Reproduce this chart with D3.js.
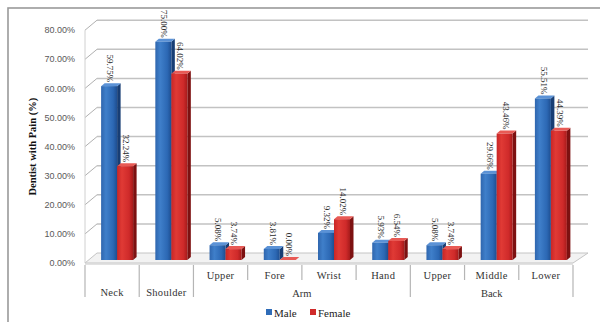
<!DOCTYPE html>
<html>
<head>
<meta charset="utf-8">
<script src="https://cdn.jsdelivr.net/npm/d3@7"></script>
<style>
  html, body { margin: 0; padding: 0; background: #fff; }
  svg { display: block; }
</style>
</head>
<body>
<svg id="chart" width="600" height="322"></svg>
<script>
// Musculoskeletal pain by body region and sex
const subLabels = ["Neck", "Shoulder", "Upper", "Fore", "Wrist", "Hand", "Upper", "Middle", "Lower"];
const groupLabels = ["Neck", "Shoulder", "Arm", "Arm", "Arm", "Arm", "Back", "Back", "Back"];
const seriesNames = ["Male", "Female"];
const maleValues = [59.75, 75.00, 5.08, 3.81, 9.32, 5.93, 5.08, 29.66, 55.51];
const femaleValues = [32.24, 64.02, 3.74, 0.00, 14.02, 6.54, 3.74, 43.46, 44.39];
const valueLabelsMale = ["59.75%", "75.00%", "5.08%", "3.81%", "9.32%", "5.93%", "5.08%", "29.66%", "55.51%"];
const valueLabelsFemale = ["32.24%", "64.02%", "3.74%", "0.00%", "14.02%", "6.54%", "3.74%", "43.46%", "44.39%"];
const yTicks = [0, 10, 20, 30, 40, 50, 60, 70, 80];
const yTitle = "Dentist with Pain (%)";

const svg = d3.select("#chart");
const serif = "'Liberation Serif', 'Times New Roman', serif";
const sans = "'Liberation Sans', Arial, sans-serif";

// plot geometry
const plotLeft = 85, plotRight = 573, plotBottom = 263, plotTop = 30.2;
const depthX = 12, depthY = -10;   // back wall offset
const barDX = 5, barDY = -3;       // bars sit mid-depth
const sideW = 3.5, sideH = -3;     // bar thickness

const x = d3.scaleBand().domain(d3.range(subLabels.length)).range([plotLeft, plotRight]);
const y = d3.scaleLinear().domain([0, 80]).range([plotBottom, plotTop]);
const xs = d3.scaleBand().domain(seriesNames).range([0, 32]);

// outer frame
svg.append("rect").attr("x", 8).attr("y", 8).attr("width", 620).attr("height", 400)
  .attr("fill", "none").attr("stroke", "#9a9a9a").attr("stroke-width", 1.6);

const defs = svg.append("defs");
function grad(id, stops) {
  const g = defs.append("linearGradient").attr("id", id).attr("x1", "0%").attr("x2", "100%").attr("y1", "0%").attr("y2", "0%");
  stops.forEach(([o, c]) => g.append("stop").attr("offset", o).attr("stop-color", c));
}
grad("gMale", [["0%", "#2f66ae"], ["30%", "#3f7fca"], ["75%", "#2c68b4"], ["100%", "#1e4e90"]]);
grad("gFemale", [["0%", "#c92626"], ["30%", "#e03a35"], ["75%", "#cf2a2a"], ["100%", "#a61b1b"]]);

// floor
const floor = svg.append("g");
floor.append("path")
  .attr("d", `M${plotLeft},${plotBottom} L${plotRight},${plotBottom} L${plotRight + depthX + 3},${plotBottom + depthY} L${plotLeft + depthX},${plotBottom + depthY} Z`)
  .attr("fill", "#f2f2f2").attr("stroke", "#c4c4c4").attr("stroke-width", 1);
floor.append("line").attr("x1", plotLeft).attr("x2", plotRight).attr("y1", plotBottom + 1).attr("y2", plotBottom + 1)
  .attr("stroke", "#d8d8d8").attr("stroke-width", 1.5);

// gridlines on back wall and side wall
const grid = svg.append("g");
yTicks.filter(t => t > 0).forEach(t => {
  grid.append("line")
    .attr("x1", plotLeft + depthX).attr("x2", plotRight + depthX + 3)
    .attr("y1", y(t) + depthY).attr("y2", y(t) + depthY)
    .attr("stroke", "#c2c2c2").attr("stroke-width", 1.5);
  grid.append("line")
    .attr("x1", plotLeft).attr("x2", plotLeft + depthX)
    .attr("y1", y(t)).attr("y2", y(t) + depthY)
    .attr("stroke", "#b0b0b0").attr("stroke-width", 1);
});
grid.append("line").attr("x1", plotLeft).attr("x2", plotLeft).attr("y1", y(80)).attr("y2", plotBottom)
  .attr("stroke", "#d0d0d0").attr("stroke-width", 1);

// y tick labels
svg.append("g").selectAll("text").data(yTicks).join("text")
  .attr("x", 75).attr("y", d => y(d)).attr("dy", "0.35em")
  .attr("text-anchor", "end")
  .attr("font-family", sans).attr("font-size", 9).attr("fill", "#595959")
  .text(d => d3.format(".2f")(d) + "%");

// y title
svg.append("text")
  .attr("transform", `translate(36,${(plotTop + plotBottom) / 2}) rotate(-90)`)
  .attr("text-anchor", "middle")
  .attr("font-family", serif).attr("font-size", 10.5).attr("font-weight", "bold").attr("fill", "#111")
  .text(yTitle);

// bars
const rows = [];
subLabels.forEach((c, i) => {
  rows.push({ i, s: "Male", v: maleValues[i], label: valueLabelsMale[i] });
  rows.push({ i, s: "Female", v: femaleValues[i], label: valueLabelsFemale[i] });
});
const off = (x.bandwidth() - 32) / 2 + barDX;
const colors = {
  Male: { front: "url(#gMale)", side: "#183e74", top: "#5b92d6" },
  Female: { front: "url(#gFemale)", side: "#7d1111", top: "#e85a55" }
};
const bars = svg.append("g").selectAll("g").data(rows).join("g");
bars.each(function (d) {
  const g = d3.select(this);
  const x0 = x(d.i) + off + xs(d.s), w = xs.bandwidth();
  const y0 = y(0) + barDY, y1 = y(d.v) + barDY;
  const c = colors[d.s];
  // right side face
  g.append("path")
    .attr("d", `M${x0 + w},${y0} L${x0 + w + sideW},${y0 + sideH} L${x0 + w + sideW},${y1 + sideH} L${x0 + w},${y1} Z`)
    .attr("fill", c.side);
  // top face
  g.append("path")
    .attr("d", `M${x0},${y1} L${x0 + sideW},${y1 + sideH} L${x0 + w + sideW},${y1 + sideH} L${x0 + w},${y1} Z`)
    .attr("fill", c.top);
  // front face
  g.append("rect").attr("x", x0).attr("y", y1).attr("width", w).attr("height", Math.max(0, y0 - y1))
    .attr("fill", c.front);
});

// value labels, rotated
svg.append("g").selectAll("text").data(rows).join("text")
  .attr("transform", d => {
    const cx = x(d.i) + off + xs(d.s) + xs.bandwidth() / 2;
    const ty = y(d.v) + barDY - 4;
    return `translate(${cx},${ty}) rotate(90)`;
  })
  .attr("text-anchor", "end").attr("dominant-baseline", "middle")
  .attr("font-family", serif).attr("font-size", 9).attr("fill", "#2a2a2a")
  .text(d => d.label);

// category axis: separators and labels
const axis = svg.append("g");
const boundaries = d3.range(subLabels.length + 1);
boundaries.forEach(k => {
  const bx = k < subLabels.length ? x(k) : plotRight;
  const isGroupEdge = k === 0 || k === subLabels.length || groupLabels[k] !== groupLabels[k - 1];
  axis.append("line").attr("x1", bx).attr("x2", bx)
    .attr("y1", plotBottom + 2).attr("y2", isGroupEdge ? 297 : 280)
    .attr("stroke", "#b5b5b5").attr("stroke-width", 1.2);
});
subLabels.forEach((c, i) => {
  const solo = groupLabels[i] === c;
  axis.append("text")
    .attr("x", x(i) + x.bandwidth() / 2).attr("y", solo ? 296 : 279)
    .attr("text-anchor", "middle")
    .attr("font-family", serif).attr("font-size", 10.5).attr("fill", "#333")
    .attr("letter-spacing", 0.3)
    .text(c);
});
// group labels spanning several categories
const groupNames = Array.from(new Set(groupLabels)).filter(gn => groupLabels.filter(v => v === gn).length > 1);
groupNames.forEach(gn => {
  const idx = groupLabels.map((v, i) => v === gn ? i : -1).filter(i => i >= 0);
  const gx0 = x(idx[0]), gx1 = x(idx[idx.length - 1]) + x.bandwidth();
  axis.append("text")
    .attr("x", (gx0 + gx1) / 2).attr("y", 297)
    .attr("text-anchor", "middle")
    .attr("font-family", serif).attr("font-size", 10.5).attr("fill", "#333")
    .text(gn);
});

// legend
const legend = svg.append("g").attr("transform", "translate(266,313)");
const legendItems = [
  { name: "Male", color: "#2f6cb8", dx: 0 },
  { name: "Female", color: "#d02a2a", dx: 44 }
];
legendItems.forEach(it => {
  legend.append("rect").attr("x", it.dx).attr("y", -4).attr("width", 6).attr("height", 6).attr("fill", it.color);
  legend.append("text").attr("x", it.dx + 8).attr("y", 0).attr("dy", "0.35em")
    .attr("font-family", serif).attr("font-size", 11).attr("fill", "#222").text(it.name);
});
</script>
</body>
</html>
